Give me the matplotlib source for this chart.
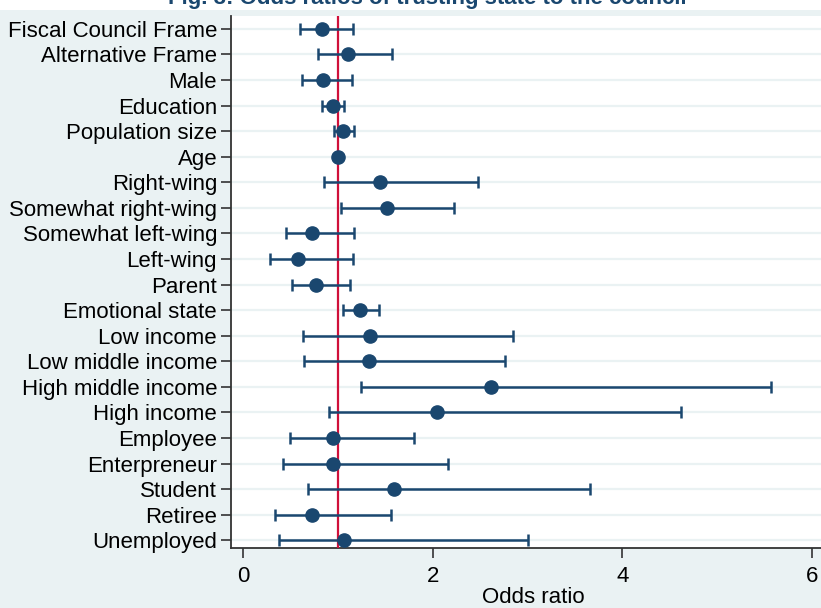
import matplotlib.pyplot as plt
from matplotlib.patches import Rectangle

plt.rcParams['font.family'] = ['Liberation Sans', 'DejaVu Sans']

# variables (top to bottom) with odds ratios and 95% CI
labels = ['Fiscal Council Frame', 'Alternative Frame', 'Male', 'Education',
          'Population size', 'Age', 'Right-wing', 'Somewhat right-wing',
          'Somewhat left-wing', 'Left-wing', 'Parent', 'Emotional state',
          'Low income', 'Low middle income', 'High middle income', 'High income',
          'Employee', 'Enterpreneur', 'Student', 'Retiree', 'Unemployed']
odds = [0.83, 1.11, 0.84, 0.95, 1.06, 1.00, 1.45, 1.52, 0.73, 0.58, 0.77,
        1.23, 1.34, 1.33, 2.62, 2.05, 0.95, 0.95, 1.59, 0.73, 1.07]
ci_low = [0.60, 0.79, 0.62, 0.83, 0.96, 0.99, 0.85, 1.03, 0.45, 0.29, 0.52,
          1.06, 0.63, 0.64, 1.24, 0.91, 0.50, 0.42, 0.69, 0.34, 0.38]
ci_high = [1.16, 1.57, 1.15, 1.07, 1.17, 1.01, 2.48, 2.22, 1.17, 1.16, 1.13,
           1.43, 2.85, 2.76, 5.57, 4.62, 1.80, 2.16, 3.66, 1.56, 3.01]
xticks = [0, 2, 4, 6]

navy = '#1a476f'
bg = '#eaf2f3'

fig = plt.figure(figsize=(8.21, 6.08), dpi=100, facecolor=bg)
W, H = 821, 608
# white strip behind the title
fig.patches.append(Rectangle((0, (H - 10) / H), 1, 10 / H, transform=fig.transFigure,
                             facecolor='white', edgecolor='none', zorder=0))
fig.text(427 / W, (H - 4) / H, 'Fig. 3: Odds ratios of trusting state to the council',
         ha='center', va='baseline', fontsize=16, fontweight='bold', color=navy)

ax = fig.add_axes([231 / W, (H - 548) / H, (835 - 231) / W, (548 - 16) / H])
ax.set_facecolor('white')

y = list(range(len(labels)))
err = [[o - l for o, l in zip(odds, ci_low)], [h - o for o, h in zip(odds, ci_high)]]

for yi in y:
    ax.axhline(yi, color=bg, lw=1.6, zorder=0)
ax.axvline(1, color='#d0103a', lw=1.6, zorder=3)
ax.errorbar(odds, y, xerr=err, fmt='o', color=navy, ms=9.5, elinewidth=1.8,
            capsize=4, capthick=1.8, zorder=4)

ax.set_ylim(20.3, -0.5)
ax.set_xlim(-0.125, 6.24)
ax.set_yticks(y)
ax.set_yticklabels(labels, fontsize=16)
ax.set_xticks(xticks)
ax.set_xticklabels([str(t) for t in xticks], fontsize=16)
ax.tick_params(axis='both', direction='out', length=7, width=1.2, color='#333333')
ax.tick_params(axis='y', pad=3)
ax.tick_params(axis='x', pad=6)
ax.set_xlabel('Odds ratio', fontsize=16, labelpad=0)

for s in ['top', 'right']:
    ax.spines[s].set_visible(False)
for s in ['left', 'bottom']:
    ax.spines[s].set_color('#333333')
    ax.spines[s].set_linewidth(1.3)

fig.savefig('out.png', dpi=100, facecolor=fig.get_facecolor())
